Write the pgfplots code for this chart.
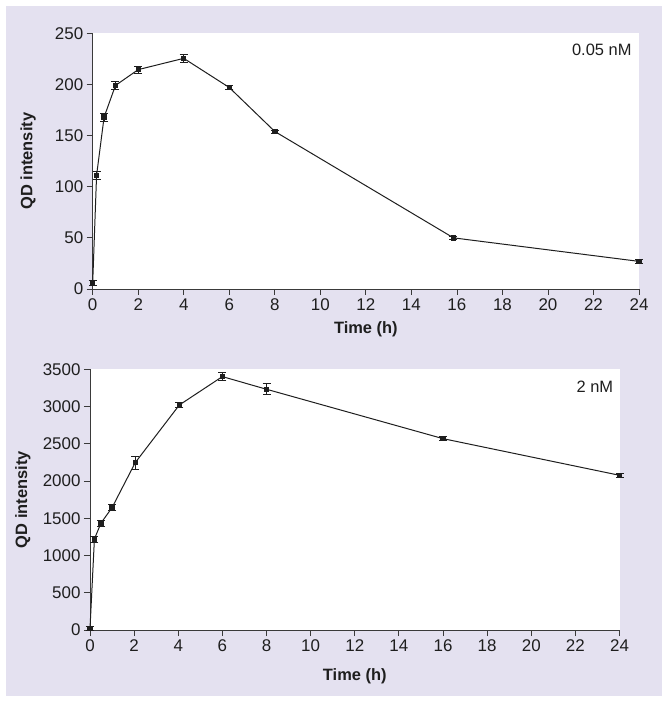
\documentclass[border=0pt]{standalone}
\usepackage{pgfplots}
\pgfplotsset{compat=1.18}
\usepackage{fontspec}
\setmainfont{Liberation Sans}
\definecolor{lav}{HTML}{E4E1F0}
\definecolor{axgray}{HTML}{3A3A3A}
\definecolor{txt}{HTML}{1E1E1E}
\pgfplotsset{
  myax/.style={
    scale only axis, anchor=south west,
    axis lines=left, axis line style={-, line width=0.9pt, draw=axgray},
    axis background/.style={fill=white},
    tick align=outside, major tick length=6bp,
    every tick/.style={line width=0.8pt, draw=axgray},
    xmin=0, xmax=24, xtick={0,2,...,24}, ymin=0,
    tick label style={font=\fontsize{17}{19}\selectfont, text=txt},
    /pgf/number format/assume math mode=true,
    /pgf/number format/1000 sep={},
    every axis y label/.style={at={(axis description cs:-0.118,0.5)}, rotate=90, anchor=center, font=\fontsize{16.5}{18}\selectfont\bfseries, text=txt},
    ylabel={QD intensity}, xlabel={Time (h)},
    clip=false,
  },
  myplot/.style={color=txt, line width=1pt, mark=square*, mark size=2.2bp,
    mark options={fill=txt, draw=txt, solid},
    error bars/.cd, y dir=both, y explicit,
    error bar style={line width=0.8pt, color=txt},
    error mark options={rotate=90, mark size=4bp, line width=0.8pt, color=txt}},
}
\begin{document}
\begin{tikzpicture}
\useasboundingbox (0,0) rectangle (668bp,703bp);
\fill[lav] (6bp,7bp) rectangle (662bp,697bp);
% top panel
\begin{axis}[myax, at={(92.7bp,414bp)}, width=546.3bp, height=255.7bp,
  ymax=250, ytick={0,50,...,250},
  every axis x label/.style={at={(axis description cs:0.5,0)}, anchor=center, yshift=-40bp, font=\fontsize{16.5}{18}\selectfont\bfseries, text=txt}]
\addplot[myplot] table[x=t, y=v, y error=e] {
t v e
0 6 2
0.17 111 4
0.5 168 4
1 199 4
2 214.5 3.5
4 225.5 3.6
6 197 2
8 154 1.5
15.85 50 1.5
24 27 1.5
};
\node[anchor=east, inner sep=0, font=\fontsize{16.5}{18}\selectfont, text=txt] at (rel axis cs:0.9866,0.935) {0.05 nM};
\end{axis}
% bottom panel
\begin{axis}[myax, at={(90bp,73bp)}, width=529.5bp, height=260.7bp,
  ymax=3500, ytick={0,500,...,3500},
  every axis y label/.style={at={(axis description cs:-0.127,0.5)}, rotate=90, anchor=center, font=\fontsize{16.5}{18}\selectfont\bfseries, text=txt},
  every axis x label/.style={at={(axis description cs:0.5,0)}, anchor=center, yshift=-46.7bp, font=\fontsize{16.5}{18}\selectfont\bfseries, text=txt}]
\addplot[myplot] table[x=t, y=v, y error=e] {
t v e
0 20 30
0.2 1222 40
0.5 1437 40
1 1643 40
2.05 2247 90
4.05 3021 30
6 3402 50
8 3232 72
16 2569 30
24 2077 30
};
\node[anchor=east, inner sep=0, font=\fontsize{16.5}{18}\selectfont, text=txt] at (rel axis cs:0.9883,0.933) {2 nM};
\end{axis}
\end{tikzpicture}
\end{document}
